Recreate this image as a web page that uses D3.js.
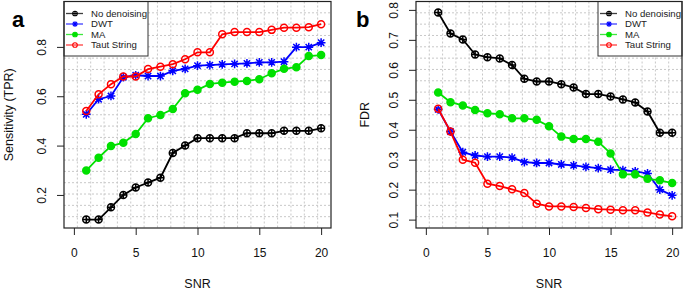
<!DOCTYPE html>
<html>
<head>
<meta charset="utf-8">
<script src="https://cdn.jsdelivr.net/npm/d3@7"></script>
<style>
  body { margin: 0; background: #fff; }
  svg { display: block; font-family: "Liberation Sans", Arial, sans-serif; }
</style>
</head>
<body>
<svg id="chart" width="685" height="289"></svg>
<script>
// SNR levels (x axis)
const snr = [1, 2, 3, 4, 5, 6, 7, 8, 9, 10, 11, 12, 13, 14, 15, 16, 17, 18, 19, 20];

// Panel a: sensitivity (TPR)
const tprNone = [0.10, 0.10, 0.15, 0.20, 0.23, 0.25, 0.27, 0.37, 0.40, 0.43, 0.43, 0.43, 0.43, 0.45, 0.45, 0.45, 0.46, 0.46, 0.46, 0.47];
const tprDwt = [0.527, 0.588, 0.601, 0.677, 0.685, 0.682, 0.682, 0.703, 0.711, 0.724, 0.726, 0.729, 0.731, 0.733, 0.737, 0.737, 0.74, 0.799, 0.799, 0.817];
const tprMa = [0.299, 0.351, 0.398, 0.412, 0.447, 0.511, 0.524, 0.548, 0.612, 0.626, 0.65, 0.655, 0.659, 0.662, 0.669, 0.693, 0.711, 0.718, 0.763, 0.767];
const tprTaut = [0.54, 0.608, 0.649, 0.68, 0.68, 0.71, 0.72, 0.73, 0.75, 0.778, 0.778, 0.851, 0.86, 0.86, 0.86, 0.869, 0.878, 0.878, 0.88, 0.892];

// Panel b: FDR
const fdrNone = [0.791, 0.721, 0.701, 0.651, 0.642, 0.638, 0.616, 0.570, 0.561, 0.561, 0.552, 0.541, 0.519, 0.519, 0.511, 0.501, 0.491, 0.461, 0.390, 0.390];
const fdrDwt = [0.468, 0.394, 0.325, 0.314, 0.310, 0.310, 0.307, 0.292, 0.289, 0.289, 0.284, 0.281, 0.276, 0.272, 0.267, 0.265, 0.261, 0.254, 0.200, 0.181];
const fdrMa = [0.524, 0.492, 0.481, 0.466, 0.455, 0.452, 0.438, 0.438, 0.433, 0.412, 0.377, 0.369, 0.369, 0.360, 0.321, 0.251, 0.251, 0.236, 0.231, 0.222];
const fdrTaut = [0.47, 0.394, 0.30, 0.29, 0.22, 0.212, 0.201, 0.189, 0.153, 0.144, 0.144, 0.142, 0.139, 0.135, 0.133, 0.131, 0.131, 0.124, 0.117, 0.111];

const seriesNames = ["No denoising", "DWT", "MA", "Taut String"];
const seriesColors = ["#000000", "#0000ff", "#00e000", "#ff0000"];
const seriesShapes = ["circlePlus", "asterisk", "dot", "circle"];

const snrTicks = [0, 5, 10, 15, 20];
const tprTicks = [0.2, 0.4, 0.6, 0.8];
const fdrTicks = [0.1, 0.2, 0.3, 0.4, 0.5, 0.6, 0.7, 0.8];

const FONT = 12;

// pch-like marker paths
function markerPath(shape, r) {
  const circ = `M${-r},0a${r},${r} 0 1,0 ${2 * r},0a${r},${r} 0 1,0 ${-2 * r},0`;
  if (shape === "circlePlus") return `${circ}M${-r},0H${r}M0,${-r}V${r}`;
  if (shape === "asterisk") {
    const d = r * 0.72;
    return `M${-r},0H${r}M0,${-r}V${r}M${-d},${-d}L${d},${d}M${-d},${d}L${d},${-d}`;
  }
  return circ;
}

function drawMarker(g, shape, color, x, y, r, sw) {
  g.append("path")
    .attr("transform", `translate(${x},${y})`)
    .attr("d", markerPath(shape, shape === "asterisk" ? r * 1.25 : r))
    .attr("fill", shape === "dot" ? color : "none")
    .attr("stroke", color)
    .attr("stroke-width", sw);
}

const svg = d3.select("#chart");

function drawPanel(cfg) {
  const { left, right, top, bottom } = cfg;
  const w = right - left;
  const h = bottom - top;

  const x = d3.scaleLinear().domain([-0.8, 20.8]).range([left, right]);
  const y = d3.scaleLinear().domain(cfg.yDomain).range([bottom, top]);

  const g = svg.append("g");

  // grid(20, 20), lightgray dotted
  const grid = g.append("g").attr("stroke", "#c8c8c8").attr("stroke-width", 1).attr("stroke-dasharray", "2,2");
  d3.range(1, 20).forEach((k) => {
    grid.append("line").attr("x1", left + (k * w) / 20).attr("x2", left + (k * w) / 20).attr("y1", top).attr("y2", bottom);
    grid.append("line").attr("y1", top + (k * h) / 20).attr("y2", top + (k * h) / 20).attr("x1", left).attr("x2", right);
  });

  // series
  cfg.series.forEach((vals, si) => {
    const color = seriesColors[si];
    const line = d3.line().x((d, i) => x(snr[i])).y((d) => y(d));
    g.append("path")
      .datum(vals)
      .attr("d", line)
      .attr("fill", "none")
      .attr("stroke", color)
      .attr("stroke-width", 1.8);
    vals.forEach((v, i) => drawMarker(g, seriesShapes[si], color, x(snr[i]), y(v), 3.5, 1.5));
  });

  // legend
  const lg = g.append("g").attr("transform", `translate(${cfg.legendX},${top})`);
  lg.append("rect")
    .attr("x", 0).attr("y", 0).attr("width", 84).attr("height", 54.5)
    .attr("fill", "#fff").attr("stroke", "#333").attr("stroke-width", 1);
  seriesNames.forEach((name, i) => {
    const ry = 12 + i * 10.5;
    lg.append("line")
      .attr("x1", 2).attr("x2", 19).attr("y1", ry).attr("y2", ry)
      .attr("stroke", seriesColors[i]).attr("stroke-width", 1.3).attr("opacity", 0.75);
    drawMarker(lg, seriesShapes[i], seriesColors[i], 11, ry, 2.3, 1.1);
    lg.append("text")
      .attr("x", 27).attr("y", ry).attr("dy", "0.35em")
      .attr("font-size", 9.6).attr("fill", "#222")
      .text(name);
  });

  // box
  g.append("rect")
    .attr("x", left).attr("y", top).attr("width", w).attr("height", h)
    .attr("fill", "none").attr("stroke", "#222").attr("stroke-width", 1.2);

  // x axis
  g.append("g")
    .attr("transform", `translate(0,${bottom})`)
    .call(d3.axisBottom(x).tickValues(snrTicks).tickSize(7).tickPadding(13).tickFormat(d3.format("d")))
    .call((a) => a.select(".domain").remove())
    .call((a) => a.selectAll("line").attr("stroke", "#222"))
    .call((a) => a.selectAll("text").attr("font-size", FONT).attr("fill", "#111").attr("font-family", null));

  // y axis, labels parallel to the axis
  g.append("g")
    .attr("transform", `translate(${left},0)`)
    .call(d3.axisLeft(y).tickValues(cfg.yTicks).tickSize(7).tickFormat(d3.format(".1f")))
    .call((a) => a.select(".domain").remove())
    .call((a) => a.selectAll("line").attr("stroke", "#222"))
    .call((a) =>
      a.selectAll("text")
        .attr("x", null)
        .attr("dy", "0.35em")
        .attr("transform", "translate(-22.5,0) rotate(-90)")
        .attr("text-anchor", "middle")
        .attr("font-size", FONT)
        .attr("fill", "#111")
        .attr("font-family", null),
    );

  // axis titles
  g.append("text")
    .attr("x", (left + right) / 2).attr("y", 287.5)
    .attr("text-anchor", "middle").attr("font-size", 12.5).attr("fill", "#111")
    .text("SNR");
  g.append("text")
    .attr("transform", `translate(${cfg.titleX},${(top + bottom) / 2}) rotate(-90)`)
    .attr("dy", "0.35em")
    .attr("text-anchor", "middle").attr("font-size", 12.5).attr("fill", "#111")
    .text(cfg.yTitle);

  // panel letter
  g.append("text")
    .attr("x", cfg.letterX).attr("y", 27)
    .attr("font-size", 22).attr("font-weight", "bold").attr("fill", "#000")
    .text(cfg.letter);
}

drawPanel({
  left: 64, right: 331, top: 1.5, bottom: 228,
  yDomain: [0.066, 0.984], yTicks: tprTicks,
  series: [tprNone, tprDwt, tprMa, tprTaut],
  legendX: 64, titleX: 8.5, yTitle: "Sensitivity (TPR)",
  letter: "a", letterX: 12,
});

drawPanel({
  left: 416, right: 682, top: 1.5, bottom: 228,
  yDomain: [0.072, 0.828], yTicks: fdrTicks,
  series: [fdrNone, fdrDwt, fdrMa, fdrTaut],
  legendX: 598, titleX: 365, yTitle: "FDR",
  letter: "b", letterX: 356,
});
</script>
</body>
</html>
